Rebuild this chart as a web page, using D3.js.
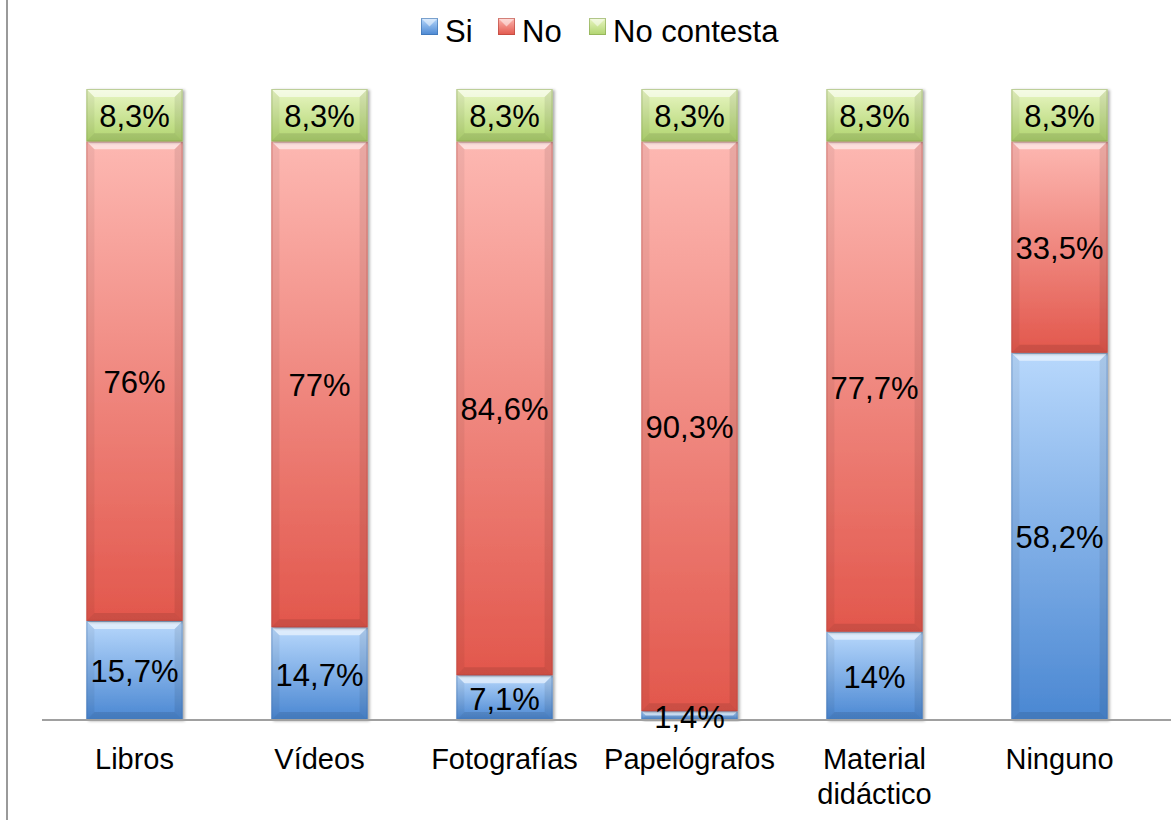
<!DOCTYPE html>
<html><head><meta charset="utf-8">
<script src="https://cdn.jsdelivr.net/npm/d3@7"></script>
<style>body{margin:0;background:#fff}svg{display:block}text{font-family:"Liberation Sans",Arial,sans-serif;fill:#000}</style>
</head><body><svg id="c" width="1171" height="820"></svg>
<script>
const categories = ["Libros","Vídeos","Fotografías","Papelógrafos","Material didáctico","Ninguno"];
const categoryLines = [["Libros"],["Vídeos"],["Fotografías"],["Papelógrafos"],["Material","didáctico"],["Ninguno"]];
const seriesNames = ["Si","No","No contesta"];
const si = [15.7,14.7,7.1,1.4,14,58.2];
const no = [76,77,84.6,90.3,77.7,33.5];
const noContesta = [8.3,8.3,8.3,8.3,8.3,8.3];
const labelsSi = ["15,7%","14,7%","7,1%","1,4%","14%","58,2%"];
const labelsNo = ["76%","77%","84,6%","90,3%","77,7%","33,5%"];
const labelsNC = ["8,3%","8,3%","8,3%","8,3%","8,3%","8,3%"];

const colors = [
  {top:"#b8d8fc", bot:"#4a87d2", edge:"#3b6fae"},
  {top:"#fdb8b2", bot:"#e2574c", edge:"#b6443b"},
  {top:"#e9f6c4", bot:"#b0d46e", edge:"#86a44e"}
];

const svg = d3.select("#c");
const defs = svg.append("defs");
colors.forEach((c,i)=>{
  const g = defs.append("linearGradient").attr("id","g"+i).attr("x1",0).attr("y1",0).attr("x2",0).attr("y2",1);
  g.append("stop").attr("offset","0%").attr("stop-color",c.top);
  g.append("stop").attr("offset","100%").attr("stop-color",c.bot);
});
const f = defs.append("filter").attr("id","sh").attr("x","-10%").attr("y","-10%").attr("width","130%").attr("height","130%");
f.append("feDropShadow").attr("dx",2).attr("dy",1).attr("stdDeviation",1.5).attr("flood-color","#000").attr("flood-opacity",0.35);

// frame left border
svg.append("line").attr("x1",7).attr("x2",7).attr("y1",0).attr("y2",820).attr("stroke","#9a9a9a").attr("stroke-width",2);

const x = d3.scaleBand().domain(categories).range([42,1152]).paddingInner(0.48).paddingOuter(0.24);
const y = d3.scaleLinear().domain([0,100]).range([720,89]);

const data = categories.map((c,i)=>({cat:c, vals:[si[i],no[i],noContesta[i]], labels:[labelsSi[i],labelsNo[i],labelsNC[i]]}));
const stack = d3.stack().keys([0,1,2]).value((d,k)=>d.vals[k])(data);

const bw = x.bandwidth();
stack.forEach((layer,si_)=>{
  const g = svg.append("g");
  layer.forEach((seg,i)=>{
    const x0 = x(categories[i]);
    const yT = y(seg[1]), yB = y(seg[0]);
    const h = yB - yT;
    const gg = g.append("g");
    gg.append("rect").attr("x",x0).attr("y",yT).attr("width",bw).attr("height",h)
      .attr("fill","url(#g"+si_+")").attr("filter","url(#sh)");
    const b = Math.min(8, h/2);
    gg.append("path").attr("d",`M${x0},${yT}L${x0+bw},${yT}L${x0+bw-b},${yT+b}L${x0+b},${yT+b}Z`).attr("fill","#fff").attr("opacity",0.55);
    gg.append("path").attr("d",`M${x0},${yB}L${x0+bw},${yB}L${x0+bw-b},${yB-b}L${x0+b},${yB-b}Z`).attr("fill","#000").attr("opacity",0.1);
    gg.append("path").attr("d",`M${x0},${yT}L${x0+b},${yT+b}L${x0+b},${yB-b}L${x0},${yB}Z`).attr("fill","#000").attr("opacity",0.05);
    gg.append("path").attr("d",`M${x0+bw},${yT}L${x0+bw-b},${yT+b}L${x0+bw-b},${yB-b}L${x0+bw},${yB}Z`).attr("fill","#000").attr("opacity",0.08);
    gg.append("rect").attr("x",x0+0.5).attr("y",yT+0.5).attr("width",bw-1).attr("height",Math.max(0,h-1))
      .attr("fill","none").attr("stroke",colors[si_].edge).attr("stroke-opacity",0.5).attr("stroke-width",1);
  });
});

// axis line
svg.append("line").attr("x1",42).attr("x2",1171).attr("y1",720).attr("y2",720).attr("stroke","#a0a0a0").attr("stroke-width",2);

// data labels
stack.forEach((layer,k)=>{
  layer.forEach((seg,i)=>{
    svg.append("text").attr("x",x(categories[i])+bw/2).attr("y",(y(seg[0])+y(seg[1]))/2+12)
      .attr("text-anchor","middle").style("font-size","31px").text(data[i].labels[k]);
  });
});

// category labels
categories.forEach((c,i)=>{
  const t = svg.append("text").attr("x",x(c)+bw/2).attr("y",769).attr("text-anchor","middle").style("font-size","29px");
  categoryLines[i].forEach((ln,j)=>{
    t.append("tspan").attr("x",x(c)+bw/2).attr("dy",j===0?0:35).text(ln);
  });
});

// legend
const legX = [421,498,589];
const legTX = [445,522,613];
seriesNames.forEach((n,i)=>{
  const s = 17, lx = legX[i], ly = 18;
  svg.append("rect").attr("x",lx).attr("y",ly).attr("width",s).attr("height",s).attr("fill","url(#g"+i+")");
  svg.append("path").attr("d",`M${lx},${ly}L${lx+s},${ly}L${lx+s/2},${ly+s/2}Z`).attr("fill","#fff").attr("opacity",0.5);
  svg.append("rect").attr("x",lx+0.5).attr("y",ly+0.5).attr("width",s-1).attr("height",s-1).attr("fill","none").attr("stroke",colors[i].edge).attr("stroke-opacity",0.6);
  svg.append("text").attr("x",legTX[i]).attr("y",42).style("font-size","31px").text(n);
});
</script></body></html>
